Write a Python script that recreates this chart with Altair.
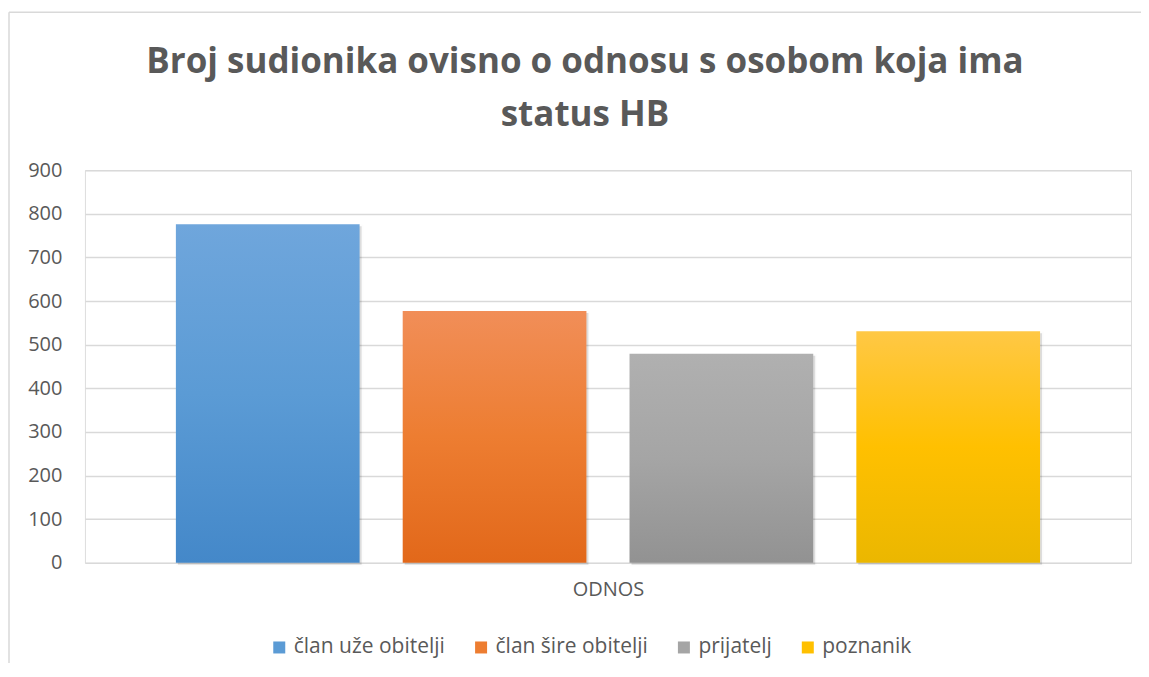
import altair as alt
import pandas as pd

categories = ["član uže obitelji", "član šire obitelji", "prijatelj", "poznanik"]
values = [776, 577, 479, 531]
base_colors = ["#5B9BD5", "#ED7D31", "#A5A5A5", "#FFC000"]
top_colors = ["#6FA6DC", "#F18E58", "#B0B0B0", "#FFC845"]
bottom_colors = ["#4488C9", "#E2681A", "#929292", "#EBB700"]
y_ticks = [0, 100, 200, 300, 400, 500, 600, 700, 800, 900]

df = pd.DataFrame({"series": categories, "value": values, "idx": list(range(len(categories)))})

FONT = "Open Sans"
GRAY = "#595959"

conditions = []
for i in range(len(categories)):
    conditions.append({
        "test": f"datum.idx == {i}",
        "value": {
            "gradient": "linear", "x1": 0, "x2": 0, "y1": 0, "y2": 1,
            "stops": [
                {"offset": 0, "color": top_colors[i]},
                {"offset": 0.5, "color": base_colors[i]},
                {"offset": 1, "color": bottom_colors[i]},
            ],
        },
    })

x_enc = alt.X(
    "series:N", sort=categories,
    scale=alt.Scale(paddingInner=0.19, paddingOuter=0.401),
    axis=alt.Axis(labels=False, ticks=False, domain=False, grid=False, title="ODNOS",
                  titleFont=FONT, titleFontSize=20, titleFontWeight="normal",
                  titleColor=GRAY, titlePadding=17),
)
y_enc = alt.Y(
    "value:Q",
    scale=alt.Scale(domain=[0, 900], nice=False),
    axis=alt.Axis(values=y_ticks, title=None, domain=False, ticks=False,
                  labelFont=FONT, labelFontSize=20, labelColor=GRAY, labelPadding=23,
                  grid=True, gridColor="#D9D9D9", gridWidth=1.5),
)

base = alt.Chart(df)

shadow = base.mark_bar(color="#000000", opacity=0.13, xOffset=2, yOffset=2,
                       stroke="#000000", strokeWidth=3, strokeOpacity=0.06).encode(
    x=x_enc, y=y_enc)

bars = base.mark_bar().encode(
    x=x_enc, y=y_enc,
    color=alt.Color(
        "series:N", sort=categories,
        scale=alt.Scale(domain=categories, range=base_colors),
        legend=alt.Legend(
            orient="none", legendX=184, legendY=467, direction="horizontal",
            title=None, symbolType="square", symbolSize=144, symbolStrokeWidth=0,
            labelFont=FONT, labelFontSize=21, labelColor=GRAY,
            columnPadding=25, labelOffset=4,
        ),
        condition=conditions,
    ),
)

frame_df = pd.DataFrame({"a": [0]})
frame_left = alt.Chart(frame_df).mark_rule(color="#D9D9D9", strokeWidth=1.5).encode(
    x=alt.value(-76), y=alt.value(-158), y2=alt.value(520))
frame_top = alt.Chart(frame_df).mark_rule(color="#D9D9D9", strokeWidth=1.5).encode(
    x=alt.value(-76), x2=alt.value(1080), y=alt.value(-158))

chart = alt.layer(frame_left, frame_top, shadow, bars).properties(
    width=1047, height=393,
    padding={"left": 77, "top": 162, "right": 10, "bottom": 100},
    autosize=alt.AutoSizeParams(type="none"),
    title=alt.TitleParams(
        text=["Broj sudionika ovisno o odnosu s osobom koja ima", "status HB"],
        font=FONT, fontSize=35, fontWeight="bold", color=GRAY,
        lineHeight=53, anchor="middle", frame="group", dx=-23, offset=-122,
    ),
).configure_view(stroke=None).configure(background="white")

chart.save("out.html", embed_options={"renderer": "svg", "actions": False})
